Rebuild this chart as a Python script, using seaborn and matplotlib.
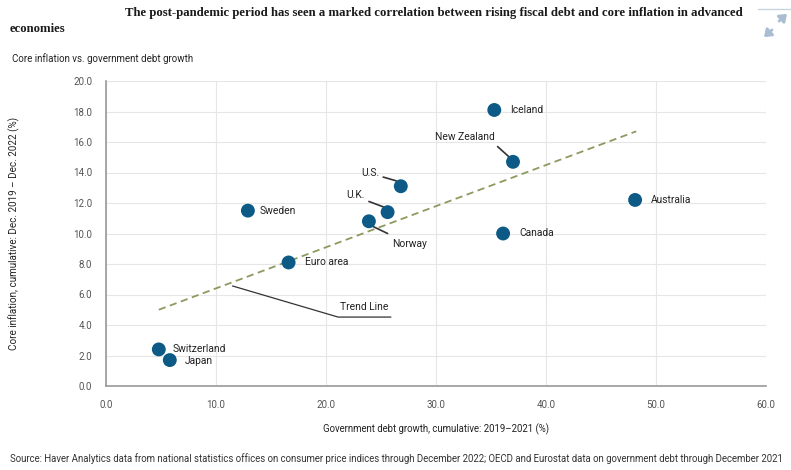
import matplotlib
matplotlib.use("Agg")
import matplotlib.pyplot as plt
import seaborn as sns
import pandas as pd
import numpy as np

# ---- data ----
countries = ["Iceland", "New Zealand", "U.S.", "U.K.", "Norway", "Sweden",
             "Euro area", "Canada", "Australia", "Switzerland", "Japan"]
debt_growth = [35.3, 37.0, 26.8, 25.6, 23.9, 12.9, 16.6, 36.1, 48.1, 4.8, 5.8]
core_inflation = [18.1, 14.7, 13.1, 11.4, 10.8, 11.5, 8.1, 10.0, 12.2, 2.4, 1.7]
trend_x = [4.8, 48.2]
trend_y = [5.0, 16.7]
x_ticks = [0, 10, 20, 30, 40, 50, 60]
y_ticks = [0, 2, 4, 6, 8, 10, 12, 14, 16, 18, 20]

df = pd.DataFrame({"country": countries, "debt": debt_growth, "infl": core_inflation})
trend = pd.DataFrame({"x": trend_x, "y": trend_y})

sns.set_theme(style="white")
plt.rcParams['font.family'] = ['Roboto', 'DejaVu Sans']

fig = plt.figure(figsize=(7.91, 4.70), dpi=100)
W, H = 791, 470
ax = fig.add_axes([106 / W, 1 - 386 / H, (766 - 106) / W, (386 - 81) / H])

sns.lineplot(data=trend, x="x", y="y", ax=ax, color="#8c9a5e", lw=1.3,
             linestyle=(0, (4, 2.5)), zorder=2)
sns.scatterplot(data=df, x="debt", y="infl", ax=ax, color="#0c5a85", s=100,
                edgecolor="none", zorder=3)

ax.set_xlim(0, 60)
ax.set_ylim(0, 20)
ax.set_xticks(x_ticks)
ax.set_yticks(y_ticks)
ax.set_xticklabels([f"{v:.1f}" for v in x_ticks], fontsize=7, color="#555555")
ax.set_yticklabels([f"{v:.1f}" for v in y_ticks], fontsize=7, color="#555555")
ax.tick_params(axis="both", length=0, pad=10)
ax.grid(True, color="#e6e6e6", lw=0.8)
ax.set_axisbelow(True)
for s in ["top", "right"]:
    ax.spines[s].set_visible(False)
for s in ["left", "bottom"]:
    ax.spines[s].set_color("#999999")
    ax.spines[s].set_linewidth(1.2)
ax.set_xlabel("Government debt growth, cumulative: 2019\u20132021 (%)", fontsize=6.9,
              color="#222222", labelpad=10)
ax.set_ylabel("Core inflation, cumulative: Dec. 2019 \u2013 Dec. 2022 (%)", fontsize=7.1,
              color="#222222", labelpad=38)

lab = dict(fontsize=7.4, color="#222222", va="center")
# direct labels (right of dot)
right_labels = {"Iceland": (1.45, 0), "Sweden": (1.1, 0), "Euro area": (1.45, 0),
                "Canada": (1.5, 0), "Australia": (1.4, 0), "Switzerland": (1.25, 0.05),
                "Japan": (1.35, -0.05)}
for c, (dx, dy) in right_labels.items():
    i = countries.index(c)
    ax.text(debt_growth[i] + dx, core_inflation[i] + dy, c, ha="left", **lab)

# labels with leader lines
leader = {"U.S.": (24.0, 14.0, "center"), "U.K.": (22.7, 12.5, "center"),
          "Norway": (26.0, 9.3, "left"), "New Zealand": (32.6, 16.3, "center")}
lead_start = {"U.S.": (25.2, 13.7), "U.K.": (23.9, 12.1), "Norway": (25.6, 10.0),
              "New Zealand": (35.6, 15.7)}
for c, (tx, ty, ha) in leader.items():
    i = countries.index(c)
    sx, sy = lead_start[c]
    ax.plot([sx, debt_growth[i] - 0.4 * np.sign(debt_growth[i] - sx)],
            [sy, core_inflation[i] + 0.35 * np.sign(sy - core_inflation[i])],
            color="#333333", lw=1.2, zorder=2)
    ax.text(tx, ty, c, ha=ha, **lab)

# trend line annotation
ax.plot([11.5, 21.1, 25.9], [6.56, 4.52, 4.52], color="#333333", lw=0.9)
ax.text(23.5, 5.2, "Trend Line", ha="center", **lab)

serif = ["Liberation Serif", "DejaVu Serif"]
fig.text(125 / W, 1 - 13 / H, "The post-pandemic period has seen a marked correlation between rising fiscal debt and core inflation in advanced",
         fontsize=9.2, family=serif, fontweight="bold",
         color="#1a1a1a", va="center", ha="left")
fig.text(10 / W, 1 - 29 / H, "economies",
         fontsize=9.2, family=serif, fontweight="bold",
         color="#1a1a1a", va="center", ha="left")
fig.text(12 / W, 1 - 59 / H, "Core inflation vs. government debt growth", fontsize=7,
         color="#222222", va="center", ha="left")
fig.text(10 / W, 1 - 459 / H,
         "Source: Haver Analytics data from national statistics offices on consumer price indices through December 2022; OECD and Eurostat data on government debt through December 2021",
         fontsize=6.9, color="#333333", va="center", ha="left")

# decorative expand icon (top-right)
icol = "#a9bed3"
fig.add_artist(matplotlib.lines.Line2D([758 / W, 1.0], [1 - 9 / H, 1 - 9 / H],
                                       color="#c8d4e0", lw=1.0, transform=fig.transFigure))
fig.add_artist(matplotlib.patches.FancyArrowPatch((777 / W, 1 - 23 / H), (789 / W, 1 - 12 / H),
               transform=fig.transFigure, arrowstyle="-|>,head_width=3,head_length=4",
               color=icol, lw=2.0))
fig.add_artist(matplotlib.patches.FancyArrowPatch((774 / W, 1 - 28 / H), (762 / W, 1 - 39 / H),
               transform=fig.transFigure, arrowstyle="-|>,head_width=3,head_length=4",
               color=icol, lw=2.0))

fig.savefig("out.png", dpi=100)
